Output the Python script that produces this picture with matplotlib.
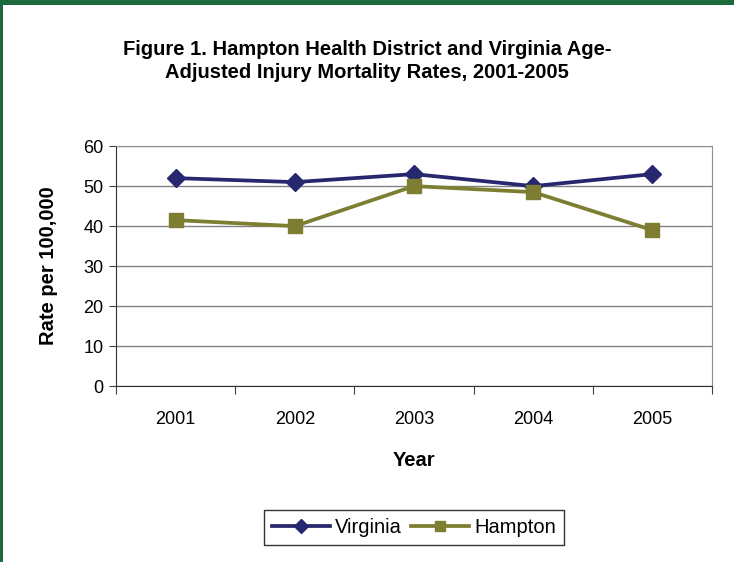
import numpy as np
import matplotlib.pyplot as plt
from matplotlib.patches import Rectangle

plt.rcParams["font.family"] = ["Liberation Sans", "DejaVu Sans"]

years = ["2001", "2002", "2003", "2004", "2005"]
virginia = [52, 51, 53, 50, 53]
hampton = [41.5, 40, 50, 48.5, 39]

navy = "#27276f"
olive = "#7e7e32"
border_green = "#1d6a3c"


def main():
    fig = plt.figure(figsize=(7.34, 5.62), dpi=100, facecolor="white")
    ax = fig.add_axes([0.158, 0.313, 0.812, 0.427])

    x = np.arange(len(years))
    ax.plot(x, virginia, color=navy, lw=2.7, marker="D", markersize=9,
            label="Virginia", zorder=3)
    ax.plot(x, hampton, color=olive, lw=2.7, marker="s", markersize=9.5,
            label="Hampton", zorder=3)

    ax.set_xlim(-0.5, len(years) - 0.5)
    ax.set_ylim(0, 60)
    ax.set_yticks(np.arange(0, 61, 10))
    ax.yaxis.grid(True, color="#808080", lw=1)
    ax.set_axisbelow(True)

    # category axis: ticks between categories, labels centred
    ax.set_xticks(np.arange(-0.5, len(years), 1))
    ax.set_xticklabels([])
    ax.set_xticks(x, minor=True)
    ax.set_xticklabels(years, minor=True)
    ax.tick_params(axis="x", which="major", direction="out", length=6,
                   color="#404040")
    ax.tick_params(axis="x", which="minor", length=0, pad=18, labelsize=13)
    ax.tick_params(axis="y", direction="out", length=5, color="#404040",
                   labelsize=13, pad=4)

    for side in ["top", "right"]:
        ax.spines[side].set_color("#909090")
    for side in ["left", "bottom"]:
        ax.spines[side].set_color("#303030")

    ax.set_xlabel("Year", fontsize=14.5, fontweight="bold", va="center")
    ax.xaxis.set_label_coords(0.5, -0.308)
    ax.set_ylabel("Rate per 100,000", fontsize=14.5, fontweight="bold",
                  va="center")
    ax.yaxis.set_label_coords(-0.114, 0.5)

    fig.text(0.5, 0.892, "Figure 1. Hampton Health District and Virginia Age-\n"
             "Adjusted Injury Mortality Rates, 2001-2005",
             ha="center", va="center", fontsize=14.5, fontweight="bold",
             linespacing=1.25)

    leg = ax.legend(loc="center", bbox_to_anchor=(0.5, -0.5875), ncol=2,
                    fontsize=14.5, frameon=True, fancybox=False,
                    edgecolor="black", handlelength=2.9, columnspacing=0.45,
                    handletextpad=0.25, borderpad=0.4, borderaxespad=0,
                    markerscale=0.75)
    leg.get_frame().set_linewidth(1.0)

    # green frame on top and left edges
    fig.add_artist(Rectangle((0, 1 - 5 / 562), 1, 5 / 562, transform=fig.transFigure,
                             color=border_green, lw=0))
    fig.add_artist(Rectangle((0, 0), 3 / 734, 1, transform=fig.transFigure,
                             color=border_green, lw=0))

    fig.savefig("out.png", dpi=100)


if __name__ == "__main__":
    main()
